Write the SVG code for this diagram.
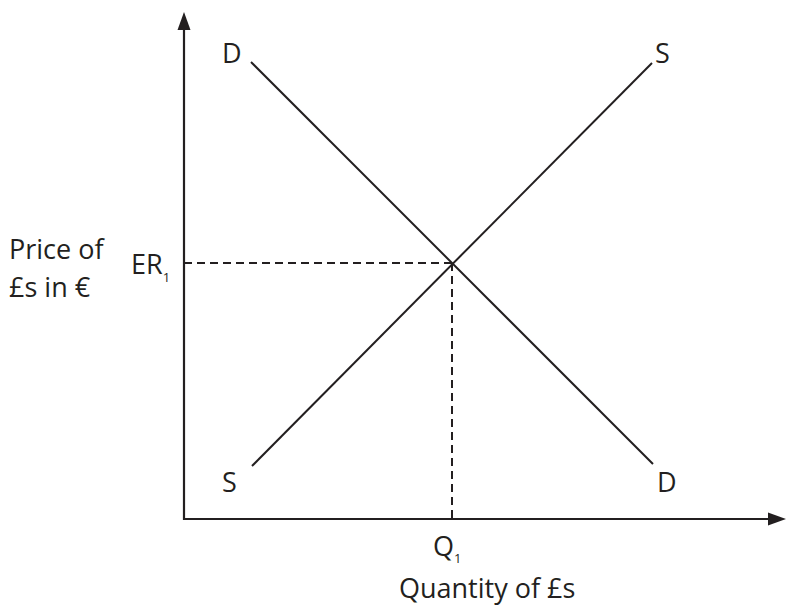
<svg xmlns="http://www.w3.org/2000/svg" width="786" height="607" viewBox="0 0 786 607">
<style>
.ax{stroke:#231f20;stroke-width:2.2;fill:none}
.ln{stroke:#231f20;stroke-width:2;fill:none}
.ds{stroke:#231f20;stroke-width:2;fill:none;stroke-dasharray:8 5}
text{font-family:"Open Sans","Noto Sans",sans-serif;font-size:27px;fill:#231f20}
.sub{font-size:13px}
</style>
<rect width="786" height="607" fill="#fff"/>
<g id="axes">
<line class="ax" x1="184" y1="520" x2="184" y2="28"/>
<polygon points="184,12 177.5,30 190.5,30" fill="#231f20"/>
<line class="ax" x1="183" y1="519" x2="772" y2="519"/>
<polygon points="786,519 768,512.5 768,525.5" fill="#231f20"/>
</g>
<g id="connectors">
<line class="ln" x1="251" y1="62" x2="653" y2="464"/>
<line class="ln" x1="252" y1="466" x2="652" y2="63"/>
<line class="ds" x1="184" y1="263" x2="452" y2="263"/>
<line class="ds" x1="452" y1="263" x2="452" y2="519"/>
</g>
<g id="labels">
<text x="222" y="63">D</text>
<text x="655" y="63">S</text>
<text x="222" y="492">S</text>
<text x="657" y="492">D</text>
<text x="9" y="259">Price of</text>
<text x="9" y="297">£s in €</text>
<text x="131" y="274">ER<tspan class="sub" dy="8">1</tspan></text>
<text x="433" y="556">Q<tspan class="sub" dy="7">1</tspan></text>
<text x="399" y="598">Quantity of £s</text>
</g>
</svg>
